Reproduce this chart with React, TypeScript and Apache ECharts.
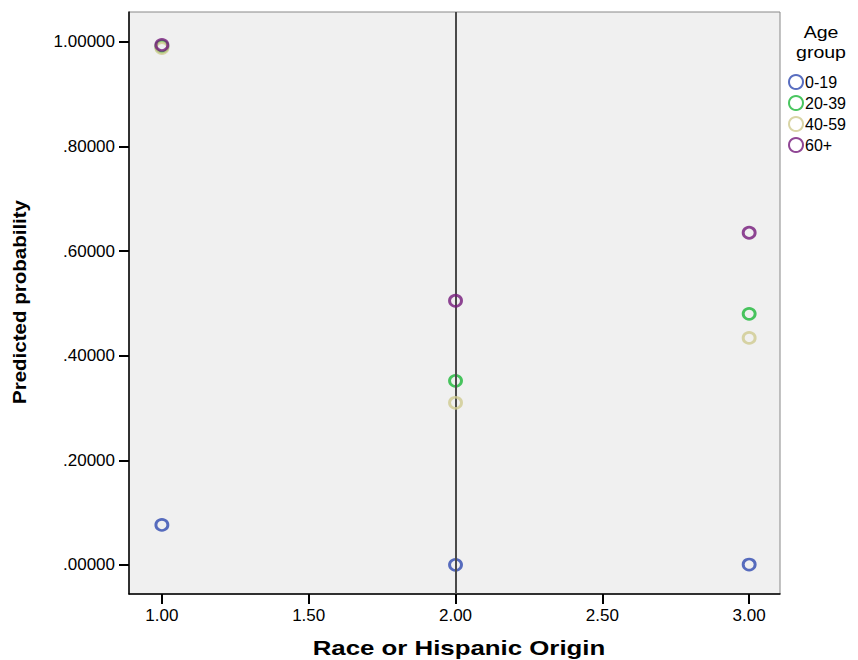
import React, { useEffect, useRef } from "react";
import * as echarts from "echarts";

const ageGroups = ["0-19", "20-39", "40-59", "60+"];
const groupColors = ["#2F4AB0", "#1DB838", "#D0CB90", "#74197A"];
const raceValues = [1, 2, 3];
const prob0_19 = [0.0765, 0.0003, 0.0008];
const prob20_39 = [0.991, 0.352, 0.48];
const prob40_59 = [0.988, 0.31, 0.434];
const prob60plus = [0.994, 0.505, 0.635];
const seriesValues = [prob0_19, prob20_39, prob40_59, prob60plus];
const xTicks = [1.0, 1.5, 2.0, 2.5, 3.0];
const yTicks = [0, 0.2, 0.4, 0.6, 0.8, 1.0];
const referenceX = 2.0;

const fmtY = (v: number) => {
  const s = v.toFixed(5);
  return s.startsWith("0") ? s.slice(1) : s;
};

export default function App() {
  const ref = useRef<HTMLDivElement>(null);
  useEffect(() => {
    document.body.style.margin = "0";
    const chart = echarts.init(ref.current!, null, { renderer: "svg" });
    const font = "'Liberation Sans', Arial, sans-serif";
    const series: any[] = ageGroups.map((g, i) => ({
      name: g,
      type: "scatter",
      symbol: "circle",
      symbolSize: [12, 11],
      data: raceValues.map((x, j) => [x, seriesValues[i][j]]),
      itemStyle: { color: "rgba(0,0,0,0)", borderColor: groupColors[i], borderWidth: 2.8 },
      z: 3 + i,
    }));
    series.push({
      type: "line",
      data: [],
      silent: true,
      markLine: {
        symbol: "none",
        silent: true,
        label: { show: false },
        lineStyle: { color: "#4a4a4a", width: 2, type: "solid" },
        data: [{ xAxis: referenceX }],
      },
      z: 2,
    });
    chart.setOption({
      animation: false,
      backgroundColor: "#ffffff",
      textStyle: { fontFamily: font },
      grid: {
        left: 129,
        top: 12,
        right: 78,
        bottom: 66,
        show: true,
        backgroundColor: "#F0F0F0",
        borderColor: "#888",
        borderWidth: 1,
        outerBoundsMode: "none",
        containLabel: false,
      },
      xAxis: {
        type: "value",
        min: 0.888,
        max: 3.105,
        splitLine: { show: false },
        axisLine: { show: true, onZero: false, lineStyle: { color: "#000", width: 1.5 } },
        axisTick: { show: true, length: 10, lineStyle: { color: "#000", width: 2 }, customValues: xTicks },
        axisLabel: {
          color: "#000",
          fontSize: 17,
          margin: 13,
          customValues: xTicks,
          formatter: (v: number) => v.toFixed(2),
        },
      },
      yAxis: {
        type: "value",
        min: -0.0555,
        max: 1.057,
        splitLine: { show: false },
        axisLine: { show: true, onZero: false, lineStyle: { color: "#000", width: 1.5 } },
        axisTick: { show: true, length: 10, lineStyle: { color: "#000", width: 2 }, customValues: yTicks },
        axisLabel: {
          color: "#000",
          fontSize: 17,
          margin: 14,
          customValues: yTicks,
          formatter: (v: number) => fmtY(v),
        },
      },
      legend: {
        show: true,
        orient: "vertical",
        left: 783,
        top: 69,
        itemWidth: 14,
        itemHeight: 14,
        itemGap: 5,
        icon: "circle",
        data: ageGroups,
        textStyle: { fontSize: 16, color: "#000", padding: [0, 0, 0, -3], fontFamily: font },
      },
      graphic: [
        {
          type: "text",
          x: 821,
          y: 22,
          scaleX: 1.15,
          style: {
            text: "Age\ngroup",
            fontSize: 17,
            lineHeight: 20,
            align: "center",
            fill: "#000",
            fontFamily: font,
          },
        },
        {
          type: "text",
          x: 459,
          y: 648,
          scaleX: 1.23,
          style: {
            text: "Race or Hispanic Origin",
            fontSize: 21,
            fontWeight: "bold",
            align: "center",
            verticalAlign: "middle",
            fill: "#000",
            fontFamily: font,
          },
        },
        {
          type: "text",
          x: 20,
          y: 302,
          rotation: Math.PI / 2,
          scaleX: 1.14,
          style: {
            text: "Predicted probability",
            fontSize: 18,
            fontWeight: "bold",
            align: "center",
            verticalAlign: "middle",
            fill: "#000",
            fontFamily: font,
          },
        },
      ],
      series,
    });
    return () => chart.dispose();
  }, []);
  return <div ref={ref} style={{ width: 858, height: 660 }} />;
}
